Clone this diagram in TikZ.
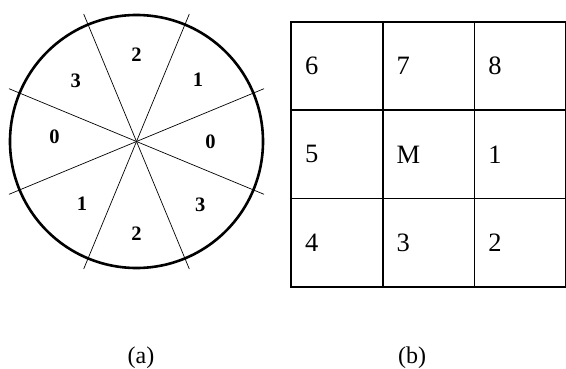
\documentclass[tikz,border=0pt]{standalone}
\usepackage{fontspec}
\setmainfont{Liberation Serif}
\usepackage{tikz}
\usetikzlibrary{calc,positioning}
\tikzset{
  sector/.style = {font=\fontsize{20.5}{24}\selectfont\bfseries, inner sep=0pt},
  cell/.style = {draw, line width=1.8pt, outer sep=0pt,
                 minimum width=91.7pt, minimum height=88.3pt,
                 text width=63.7pt, inner xsep=14pt, align=left,
                 font=\fontsize{26.5}{30}\selectfont},
  caption/.style = {font=\fontsize{24}{28}\selectfont, inner sep=0pt}
}

\begin{document}
\begin{tikzpicture}[x=1pt,y=-1pt]
  \useasboundingbox (0,0) rectangle (566,369);
  % disc with the eight sectors
  \coordinate (c) at (136.5,141.5);
  \draw[line width=2.6pt] (c) circle (126.5);
  \foreach \a in {22.5,67.5,112.5,157.5}{
    \draw[line width=0.7pt] ($(c)+(\a:138)$) -- ($(c)+(\a+180:138)$);
  }
  \foreach \a/\r/\v [count=\i] in {
    270/87/2, 315/87/1, 0/74/0, 45/90/3,
    90/92/2, 131/83/1, 183/82/0, 225/86/3
  }{
    \node[sector] (s\i) at ($(c)+(\a:\r)$) {\v};
  }
  % the 3x3 neighbourhood
  \foreach \row/\a/\b/\d [count=\j] in {
    0/6/7/8,
    1/5/M/1,
    2/4/3/2
  }{
    \node[cell] (g\j a) at (336.85,66.15+88.3*\row) {\a};
    \node[cell, right=0pt of g\j a] (g\j b) {\b};
    \node[cell, right=0pt of g\j b] (g\j c) {\d};
  }
  \node[caption] (capa) at (141,358) {(a)};
  \node[caption] (capb) at (412,358) {(b)};
\end{tikzpicture}
\end{document}
